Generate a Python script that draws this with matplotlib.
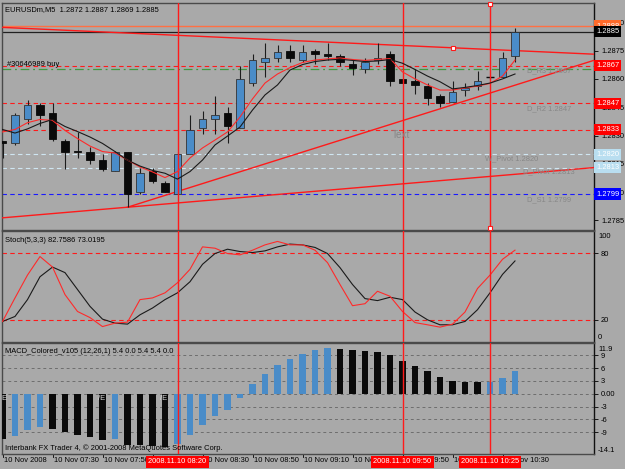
import matplotlib
matplotlib.use('Agg')
import matplotlib.pyplot as plt
import matplotlib.transforms as mtransforms
from matplotlib.patches import Rectangle

plt.rcParams['font.family'] = ['Liberation Sans', 'DejaVu Sans']

# ---------------- data ----------------
bars = list(range(42))
opens = [1.2827, 1.2826, 1.2839, 1.2846, 1.2842, 1.2827, 1.2822, 1.2821, 1.2817, 1.2811,
         1.2821, 1.2800, 1.2811, 1.2805, 1.2799, 1.2820, 1.2834, 1.2839, 1.2842, 1.2834,
         1.2858, 1.2869, 1.2871, 1.2875, 1.2870, 1.2875, 1.2873, 1.2872, 1.2868, 1.2865,
         1.2870, 1.2873, 1.2860, 1.2859, 1.2856, 1.2851, 1.2848, 1.2854, 1.2856, 1.2861,
         1.2861, 1.2872]
highs = [1.2827, 1.2842, 1.2849, 1.2847, 1.2847, 1.2828, 1.2832, 1.2824, 1.2820, 1.2822,
         1.2821, 1.2813, 1.2813, 1.2806, 1.2821, 1.2841, 1.2843, 1.2851, 1.2845, 1.2867,
         1.2873, 1.2879, 1.2878, 1.2878, 1.2878, 1.2876, 1.2879, 1.2873, 1.2870, 1.2871,
         1.2879, 1.2875, 1.2860, 1.2865, 1.2858, 1.2852, 1.2859, 1.2858, 1.2864, 1.2861,
         1.2874, 1.2887]
lows = [1.2818, 1.2825, 1.2836, 1.2835, 1.2827, 1.2812, 1.2818, 1.2815, 1.2811, 1.2811,
        1.2792, 1.2799, 1.2805, 1.2800, 1.2799, 1.2820, 1.2831, 1.2831, 1.2826, 1.2834,
        1.2856, 1.2861, 1.2869, 1.2869, 1.2869, 1.2868, 1.2870, 1.2867, 1.2862, 1.2863,
        1.2868, 1.2856, 1.2858, 1.2852, 1.2846, 1.2845, 1.2848, 1.2851, 1.2854, 1.2860,
        1.2861, 1.2869]
closes = [1.2826, 1.2841, 1.2846, 1.2841, 1.2828, 1.2821, 1.2821, 1.2817, 1.2812, 1.2821,
          1.2799, 1.2810, 1.2806, 1.2800, 1.2820, 1.2833, 1.2839, 1.2841, 1.2835, 1.2860,
          1.2870, 1.2871, 1.2874, 1.2871, 1.2874, 1.2873, 1.2872, 1.2869, 1.2866, 1.2869,
          1.2871, 1.2859, 1.2858, 1.2857, 1.2850, 1.2847, 1.2853, 1.2855, 1.2859, 1.2861,
          1.2871, 1.2885]
ma_fast = [1.28319, 1.28332, 1.28368, 1.28385, 1.28380, 1.28327, 1.28284, 1.28244, 1.28215, 1.28207,
           1.28170, 1.28133, 1.28107, 1.28077, 1.28109, 1.28181, 1.28234, 1.28276, 1.28319, 1.28398,
           1.28494, 1.28578, 1.28626, 1.28660, 1.28687, 1.28700, 1.28706, 1.28711, 1.28703, 1.28698,
           1.28703, 1.28708, 1.28637, 1.28600, 1.28568, 1.28541, 1.28541, 1.28552, 1.28562, 1.28576,
           1.28615, 1.28700]
ma_slow = [1.28332, 1.28313, 1.28335, 1.28364, 1.28385, 1.28348, 1.28321, 1.28292, 1.28258, 1.28215,
           1.28170, 1.28138, 1.28115, 1.28100, 1.28069, 1.28109, 1.28170, 1.28250, 1.28297, 1.28345,
           1.28435, 1.28515, 1.28568, 1.28647, 1.28676, 1.28692, 1.28700, 1.28704, 1.28698, 1.28692,
           1.28695, 1.28703, 1.28683, 1.28650, 1.28615, 1.28585, 1.28547, 1.28555, 1.28565, 1.28578,
           1.28600, 1.28626]
stoch_main = [18.5, 39.7, 60.3, 77.0, 67.5, 42.7, 27.5, 22.0, 13.9, 17.0,
              17.9, 38.2, 39.7, 44.3, 53.4, 65.5, 85.7, 84.5, 79.7, 78.5,
              82.7, 87.5, 90.6, 87.5, 87.5, 82.7, 71.5, 51.8, 32.7, 34.5,
              45.7, 41.2, 27.5, 17.5, 15.5, 13.4, 16.1, 27.0, 48.2, 60.3,
              74.5, 82.7586]
stoch_signal = [18.5, 23.0, 38.2, 58.8, 67.5, 62.5, 47.3, 32.1, 20.6, 17.0,
                16.1, 24.5, 30.6, 38.2, 44.3, 54.3, 70.0, 79.7, 83.6, 81.5,
                80.6, 82.1, 85.7, 88.2, 87.5, 85.2, 79.7, 67.0, 51.8, 39.1,
                37.3, 40.3, 38.2, 27.0, 20.0, 15.5, 15.5, 18.5, 29.1, 44.3,
                60.9, 73.0195]
macd = [-10.5, -9.95, -8.5, -7.8, -8.2, -9.0, -9.55, -10.1, -10.9, -10.5,
        -11.9, -12.0, -12.2, -12.4, -11.7, -9.55, -7.2, -5.2, -3.9, -0.9,
        2.3, 4.7, 6.8, 8.1, 9.4, 10.2, 10.7, 10.6, 10.35, 10.1,
        9.9, 9.0, 7.8, 6.6, 5.45, 3.9, 3.1, 2.7, 2.65, 2.85,
        3.7, 5.4]

# levels (price, label)
ask_price = 1.2888
bid_price = 1.2885
red_levels = [1.2867, 1.2847, 1.2833]
order_price = 1.2865
pivot_levels = [1.2820, 1.2813]
s1_level = 1.2799
price_ticks = [1.2785, 1.2800, 1.2815, 1.2830, 1.2845, 1.2860, 1.2875, 1.2890]
# trendlines: (bar, price) anchors
trend_desc = [(0.0, 1.28873), (36.0, 1.28765)]
trend_up_steep = [(10.0, 1.2792), (39.0, 1.28525)]
trend_up_flat = [(10.0, 1.2792), (47.32, 1.28130)]
vlines_bars = [14, 32, 39]
vline_labels = ['2008.11.10 08:20', '2008.11.10 09:50', '2008.11.10 10:25']
time_tick_bars = [0, 4, 8, 12, 16, 20, 24, 28, 32, 36, 40]
time_tick_labels = ['10 Nov 2008', '10 Nov 07:30', '10 Nov 07:50', '10 Nov 08:10',
                    '10 Nov 08:30', '10 Nov 08:50', '10 Nov 09:10', '10 Nov 09:30',
                    '10 Nov 09:50', '10 Nov 10:10', '10 Nov 10:30']
macd_ticks = [9, 6, 3, 0, -3, -6, -9]
macd_tick_labels = ['9', '6', '3', '0.00', '-3', '-6', '-9']
macd_marks = [(-0.1, 'E'), (7.6, '/E'), (12.6, '/E')]

# ---------------- style ----------------
W, H = 625, 469
BG = '#a9a9a9'
BLUE = '#4a8cc8'
RED = '#ff1a1a'
GRAYTXT = '#878787'
FS = 5.4

fig = plt.figure(figsize=(W / 100, H / 100), dpi=100)
fig.patch.set_facecolor(BG)


def px_axes(left, top, right, bottom):
    return fig.add_axes([left / W, 1 - bottom / H, (right - left) / W, (bottom - top) / H])


ax_p = px_axes(2, 3, 594, 230)
ax_s = px_axes(2, 231, 594, 342)
ax_m = px_axes(2, 343, 594, 454)
XL = (-0.04, 47.32)

for ax in (ax_p, ax_s, ax_m):
    ax.set_facecolor(BG)
    ax.set_xlim(*XL)
    for sp in ax.spines.values():
        sp.set_color('#4a4a4a')
        sp.set_linewidth(1.0)
    ax.spines['right'].set_color('#111111')
    ax.yaxis.tick_right()
    ax.tick_params(axis='y', direction='out', length=3, width=0.6, pad=2,
                   labelsize=FS, colors='#000000')
    ax.tick_params(axis='x', bottom=False, labelbottom=False)
    for b in vlines_bars:
        ax.axvline(b, color=RED, lw=1.0, zorder=6)


def txt(x, y, s, **kw):
    kw.setdefault('fontsize', FS)
    kw.setdefault('color', '#000000')
    kw.setdefault('va', 'center')
    kw.setdefault('ha', 'left')
    fig.text(x / W, 1 - y / H, s, **kw)


# ---------------- main price panel ----------------
pmin = 1.2867 - (230 - 65.7) / 18868
pmax = 1.2867 + (65.7 - 3) / 18868
ax_p.set_ylim(pmin, pmax)
ax_p.set_yticks(price_ticks)
ax_p.set_yticklabels(['%.4f' % p for p in price_ticks])

# horizontal levels
ax_p.axhline(ask_price, color='#ff7043', lw=1.0, zorder=2)
ax_p.axhline(bid_price, color='#202020', lw=0.9, zorder=2)
for lv in red_levels:
    ax_p.axhline(lv, color=RED, lw=0.8, ls=(0, (4, 3)), zorder=2)
ax_p.axhline(order_price, color='#3f9a3f', lw=0.9, ls=(0, (7, 3, 1.5, 3)), zorder=2)
for lv in pivot_levels:
    ax_p.axhline(lv, color='#cfe6f2', lw=0.8, ls=(0, (4, 3)), zorder=2)
ax_p.axhline(s1_level, color='#1a1aff', lw=0.8, ls=(0, (4, 3)), zorder=2)


def ray(ax, a, b, x0, x1, **kw):
    (xa, ya), (xb, yb) = a, b
    k = (yb - ya) / (xb - xa)
    ax.plot([x0, x1], [ya + k * (x0 - xa), ya + k * (x1 - xa)], **kw)


ray(ax_p, trend_desc[0], trend_desc[1], -1, 48, color=RED, lw=1.0, zorder=3)
ray(ax_p, trend_up_steep[0], trend_up_steep[1], trend_up_steep[0][0], 48, color=RED, lw=1.0, zorder=3)
ray(ax_p, trend_up_flat[0], trend_up_flat[1], -1, 48, color=RED, lw=1.0, zorder=3)

# handles of selected objects
ax_p.plot([trend_desc[1][0]], [trend_desc[1][1]], marker='s', ms=3.2, mfc='white', mec=RED,
          mew=0.8, zorder=9)
ax_p.plot([vlines_bars[2], vlines_bars[2]], [pmax - 0.00005, pmin + 0.00010], ls='none', marker='s',
          ms=3.2, mfc='white', mec=RED, mew=0.8, zorder=9, clip_on=False)

# candles
for i, o, h, l, c in zip(bars, opens, highs, lows, closes):
    ax_p.vlines(i, l, h, color='#1c1c1c', lw=0.8, zorder=4)
    if c > o:
        ax_p.add_patch(Rectangle((i - 0.3, o), 0.6, c - o, fc=BLUE, ec='#333333', lw=0.6, zorder=5))
    elif c < o:
        ax_p.add_patch(Rectangle((i - 0.3, c), 0.6, o - c, fc='#0a0a0a', ec='#0a0a0a', lw=0.6, zorder=5))
    else:
        ax_p.hlines(o, i - 0.3, i + 0.3, color='#0a0a0a', lw=1.0, zorder=5)

ax_p.plot(bars, ma_fast, color='#ff2a2a', lw=0.8, zorder=6)
ax_p.plot(bars, ma_slow, color='#1a1a1a', lw=0.8, zorder=6)

# price boxes on the scale
btrans = mtransforms.blended_transform_factory(ax_p.transAxes, ax_p.transData)


def pbox(p, s, fc, tc='white'):
    ax_p.text(1.0034, p, s, transform=btrans, ha='left', va='center', fontsize=FS, color=tc,
              bbox=dict(boxstyle='square,pad=0.28', fc=fc, ec='none'), zorder=20, clip_on=False)


pbox(ask_price, '1.2888', '#ff6a2a')
pbox(bid_price, '1.2885', '#000000')
for lv in red_levels:
    pbox(lv, '%.4f' % lv, '#ff0000')
for lv in pivot_levels:
    pbox(lv, '%.4f' % lv, '#b9def0')
pbox(s1_level, '%.4f' % s1_level, '#0000ff')

# texts in main panel
txt(5, 10, 'EURUSDm,M5  1.2872 1.2887 1.2869 1.2885')
txt(7, 64, '#30646989 buy')
txt(527, 70.5, 'D_R3 1.2867', color=GRAYTXT)
txt(527, 108.5, 'D_R2 1.2847', color=GRAYTXT)
txt(392, 135.5, 'Text', color=GRAYTXT, fontsize=7.2)
txt(485, 158.5, 'W_Pivot 1.2820', color=GRAYTXT)
txt(523, 172, 'D_Pivot 1.2813', color=GRAYTXT)
txt(527, 199.5, 'D_S1 1.2799', color=GRAYTXT)

# ---------------- stochastic ----------------
ax_s.set_ylim(0, 100)
ax_s.set_yticks([80, 20])
ax_s.set_yticklabels(['80', '20'])
ax_s.axhline(80, color=RED, lw=0.8, ls=(0, (4, 3)), zorder=2)
ax_s.axhline(20, color=RED, lw=0.8, ls=(0, (4, 3)), zorder=2)
ax_s.plot(bars, stoch_signal, color='#1a1a1a', lw=0.8, zorder=4)
ax_s.plot(bars, stoch_main, color='#ff2a2a', lw=0.8, zorder=5)
txt(5, 240, 'Stoch(5,3,3) 82.7586 73.0195')
txt(598, 237, '100')
txt(598, 337, '0')

# ---------------- MACD ----------------
ax_m.set_ylim(-14.1, 11.9)
ax_m.set_yticks(macd_ticks)
ax_m.set_yticklabels(macd_tick_labels)
for t in macd_ticks:
    ax_m.axhline(t, color='#6e6e6e', lw=0.7, ls=(0, (3, 3)), zorder=1)
macd_colors = ['#0a0a0a'] + [BLUE if macd[k] > macd[k - 1] else '#0a0a0a' for k in range(1, len(macd))]
ax_m.bar(bars, macd, width=0.52, color=macd_colors, zorder=3)
for b, s in macd_marks:
    ax_m.text(b, -1.0, s, ha='left', va='center', fontsize=FS, color='#d8d8d8', zorder=7)
txt(5, 351, 'MACD_Colored_v105 (12,26,1) 5.4 0.0 5.4 5.4 0.0')
txt(5, 448, 'Interbank FX Trader 4, \u00a9 2001-2008 MetaQuotes Software Corp.')
txt(598, 349, '11.9')
txt(598, 450, '-14.1')

# ---------------- time axis ----------------
for b, lab in zip(time_tick_bars, time_tick_labels):
    ax_m.text(b + 0.12, -0.06, lab, transform=mtransforms.blended_transform_factory(ax_m.transData, ax_m.transAxes),
              ha='left', va='center', fontsize=FS, color='#000000', clip_on=False)
    ax_m.plot([b, b], [0, -0.025], transform=mtransforms.blended_transform_factory(ax_m.transData, ax_m.transAxes),
              color='#000000', lw=0.6, clip_on=False)
for b, lab in zip(vlines_bars, vline_labels):
    ax_m.text(b, -0.07, lab, transform=mtransforms.blended_transform_factory(ax_m.transData, ax_m.transAxes),
              ha='center', va='center', fontsize=FS, color='white', zorder=20, clip_on=False,
              bbox=dict(boxstyle='square,pad=0.3', fc='#ff0000', ec='none'))

fig.savefig('out.png', dpi=100, facecolor=fig.get_facecolor())
